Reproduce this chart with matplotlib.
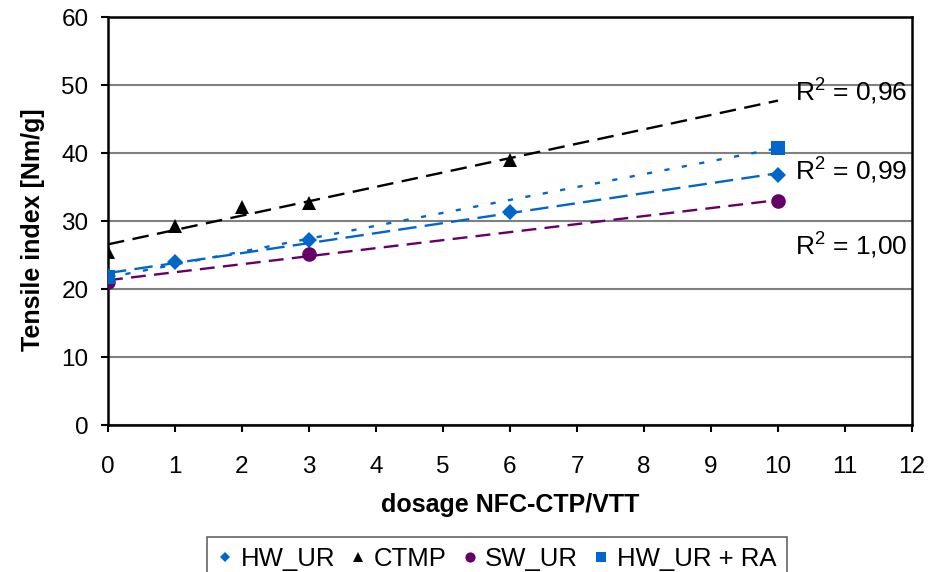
import matplotlib
matplotlib.use("Agg")
import matplotlib.pyplot as plt
import numpy as np

plt.rcParams['font.family'] = ['Liberation Sans', 'DejaVu Sans']
plt.rcParams['mathtext.fontset'] = 'custom'
plt.rcParams['mathtext.rm'] = 'Liberation Sans'
plt.rcParams['mathtext.it'] = 'Liberation Sans'

# Data
hw_x = [0, 1, 3, 6, 10]
hw_y = [21.9, 23.9, 27.2, 31.3, 36.8]
ctmp_x = [0, 1, 2, 3, 6]
ctmp_y = [25.4, 29.3, 32.0, 32.6, 38.9]
sw_x = [0, 3, 10]
sw_y = [21.1, 25.1, 33.0]
hwra_x = [0, 10]
hwra_y = [21.7, 40.7]

r2_labels = ["R$^2$ = 0,96", "R$^2$ = 0,99", "R$^2$ = 1,00"]
r2_pos_y = [49.0, 37.4, 26.3]

xticks = list(range(0, 13))
yticks = list(range(0, 61, 10))

blue = '#0066CC'
purple = '#660066'
black = '#000000'

fig = plt.figure(figsize=(9.41, 5.72), dpi=100)
ax = fig.add_axes([108/941, 1-425/572, (912-108)/941, (425-17)/572])

def trend(x, y, color, dashes):
    p = np.polyfit(x, y, 1)
    xs = np.array([0, 10])
    ax.plot(xs, np.polyval(p, xs), color=color, lw=1.7, dashes=dashes, zorder=2)

trend(ctmp_x, ctmp_y, black, (7, 3.6))
trend(hw_x, hw_y, blue, (7.8, 3.5))
trend(sw_x, sw_y, purple, (6.3, 3.5))
trend(hwra_x, hwra_y, blue, (2.2, 5.3))

ax.plot(hw_x, hw_y, 'D', color=blue, ms=7.8, mew=0, label='HW_UR', zorder=3)
ax.plot(ctmp_x, ctmp_y, '^', color=black, ms=10.5, mew=0, label='CTMP', zorder=3)
ax.plot(sw_x, sw_y, 'o', color=purple, ms=10.5, mew=0, label='SW_UR', zorder=3)
ax.plot(hwra_x, hwra_y, 's', color=blue, ms=10, mew=0, label='HW_UR + RA', zorder=4)

for lab, yy in zip(r2_labels, r2_pos_y):
    ax.text(10.25, yy, lab, fontsize=19, ha='left', va='center', color='black')

ax.set_xlim(0, 12)
ax.set_ylim(0, 60)
ax.set_xticks(xticks)
ax.set_yticks(yticks)
ax.tick_params(direction='out', length=5, width=1.5, labelsize=17.5)
ax.tick_params(axis='x', pad=17)
ax.tick_params(axis='y', pad=9)
ax.yaxis.grid(True, color='#808080', lw=1.5)
ax.set_axisbelow(True)
for s in ax.spines.values():
    s.set_linewidth(1.8)
    s.set_color('black')

ax.set_xlabel('dosage NFC-CTP/VTT', fontsize=18, fontweight='bold')
ax.xaxis.set_label_coords(0.5, -(505 - 425) / 408, transform=ax.transAxes)
ax.xaxis.label.set_va('center')
ax.set_ylabel('Tensile index [Nm/g]', fontsize=18, fontweight='bold')
ax.yaxis.set_label_coords((33 - 108) / 804, (425 - 230) / 408, transform=ax.transAxes)
ax.yaxis.label.set_va('center')

leg = fig.legend(loc='upper center', bbox_to_anchor=(497/941, 1-537/572), ncol=4,
                 fontsize=18.5, markerscale=0.7, handlelength=0.6, handletextpad=0.3,
                 columnspacing=0.6, frameon=True, fancybox=False, borderpad=0.4,
                 borderaxespad=0)
leg.get_frame().set_edgecolor('#404040')
leg.get_frame().set_linewidth(1.2)

fig.savefig('out.png', dpi=100)
